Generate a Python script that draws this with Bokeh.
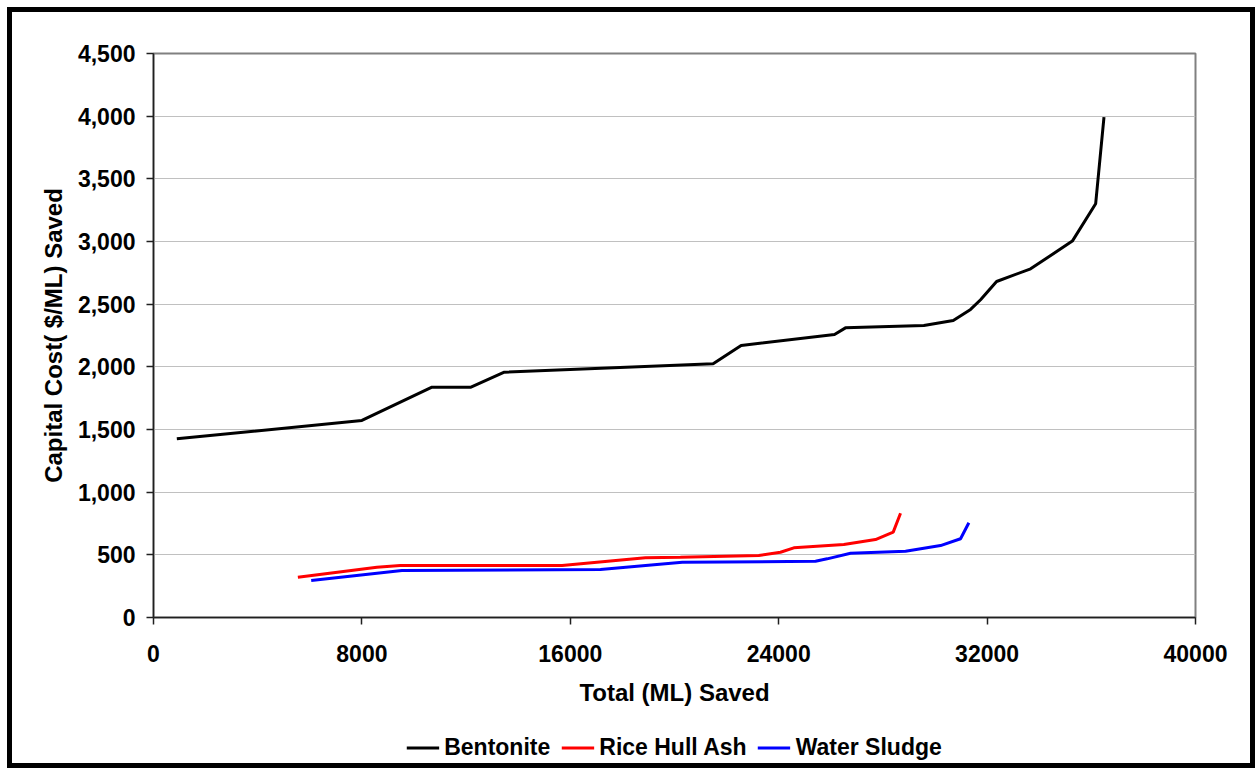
from bokeh.plotting import figure
from bokeh.layouts import column
from bokeh.models import Range1d, FixedTicker, NumeralTickFormatter, Legend, LegendItem
from bokeh.embed import file_html
from bokeh.resources import INLINE

# ---- data ----
bentonite_x = [895, 8000, 10690, 12187, 13466, 21483, 22558, 26142, 26564, 29572,
               30701, 31366, 31750, 32364, 33670, 35272, 36167, 36487]
bentonite_y = [1426, 1572, 1838, 1838, 1957, 2024, 2170, 2258, 2311, 2330,
               2370, 2458, 2535, 2681, 2782, 3003, 3301, 3992]

rice_x = [5542, 8577, 9472, 15683, 18883, 20227, 23235, 24068, 24580, 26500, 27716, 28396, 28677]
rice_y = [322, 401, 415, 415, 476, 481, 495, 521, 556, 582, 622, 681, 832]

sludge_x = [6054, 9537, 17157, 20300, 25412, 25860, 26757, 28869, 30213, 30981, 31300]
sludge_y = [295, 375, 383, 440, 449, 468, 513, 529, 574, 628, 756]

x_ticks = [0, 8000, 16000, 24000, 32000, 40000]
y_ticks = [0, 500, 1000, 1500, 2000, 2500, 3000, 3500, 4000, 4500]

series_names = ["Bentonite", "Rice Hull Ash", "Water Sludge"]
series_colors = ["#000000", "#ff0000", "#0000ff"]
series_x = [bentonite_x, rice_x, sludge_x]
series_y = [bentonite_y, rice_y, sludge_y]

FONT = "Liberation Sans"

# ---- main chart ----
p = figure(width=1238, height=703, output_backend="svg", toolbar_location=None,
           x_range=Range1d(0, 40000), y_range=Range1d(0, 4500),
           min_border_left=141, min_border_right=55, min_border_top=41,
           min_border_bottom=98)
p.background_fill_color = "white"
p.border_fill_color = "white"
p.outline_line_color = "#808080"
p.outline_line_width = 2

p.xgrid.grid_line_color = None
p.ygrid.grid_line_color = "#c0c0c0"
p.ygrid.grid_line_width = 1

for ax in (p.xaxis[0], p.yaxis[0]):
    ax.axis_line_color = "#202020"
    ax.axis_line_width = 1.5
    ax.major_tick_line_color = "#202020"
    ax.major_tick_line_width = 1.5
    ax.major_tick_out = 7
    ax.major_tick_in = 0
    ax.minor_tick_line_color = None
    ax.major_label_text_font = FONT
    ax.major_label_text_font_style = "bold"
    ax.major_label_text_font_size = "23px"
    ax.major_label_text_color = "black"
    ax.axis_label_text_font = FONT
    ax.axis_label_text_font_style = "bold"
    ax.axis_label_text_font_size = "24px"
    ax.axis_label_text_color = "black"

p.xaxis.ticker = FixedTicker(ticks=x_ticks)
p.yaxis.ticker = FixedTicker(ticks=y_ticks)
p.yaxis.formatter = NumeralTickFormatter(format="0,0")
p.xaxis.formatter = NumeralTickFormatter(format="0")
p.xaxis.axis_label = "Total (ML) Saved"
p.yaxis.axis_label = "Capital Cost( $/ML) Saved"
p.xaxis.major_label_standoff = 20
p.yaxis.major_label_standoff = 11
p.xaxis.axis_label_standoff = 14
p.yaxis.axis_label_standoff = 8

for xs, ys, c in zip(series_x, series_y, series_colors):
    p.line(xs, ys, line_color=c, line_width=3)

# ---- legend strip below the chart ----
p2 = figure(width=1238, height=48, output_backend="svg", toolbar_location=None,
            x_range=Range1d(0, 1), y_range=Range1d(0, 1),
            x_axis_type=None, y_axis_type=None,
            min_border_left=141, min_border_right=55, min_border_top=16,
            min_border_bottom=0)
p2.outline_line_color = None
p2.background_fill_color = "white"
p2.border_fill_color = "white"
p2.xgrid.visible = False
p2.ygrid.visible = False
legend_renderers = []
for xs, ys, c in zip(series_x, series_y, series_colors):
    legend_renderers.append(p2.line(xs, ys, line_color=c, line_width=3, visible=False))

legend = Legend(items=[LegendItem(label=n, renderers=[r]) for n, r in zip(series_names, legend_renderers)],
                orientation="horizontal", location="center",
                label_text_font=FONT, label_text_font_style="bold",
                label_text_font_size="23px", label_text_color="black",
                glyph_width=33, glyph_height=20, label_standoff=5, spacing=11,
                border_line_color=None, background_fill_alpha=0, padding=0,
                margin=0)
p2.add_layout(legend, "center")

layout = column(p, p2, spacing=0)
layout.styles = {"margin": "12px 0px 0px 12px", "outline": "5px solid black"}

open("out.html", "w").write(file_html(layout, INLINE))
